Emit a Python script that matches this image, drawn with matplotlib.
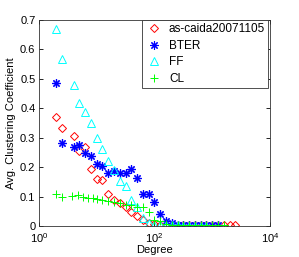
#!/usr/bin/env python3
# -*- coding: utf-8 -*-
# clustering coefficient vs degree, log x axis (matlab style)
import numpy as np
import matplotlib
matplotlib.use('Agg')
import matplotlib.pyplot as plt
from matplotlib.ticker import LogLocator, NullLocator

plt.rcParams['font.family'] = ['Liberation Sans', 'DejaVu Sans']
plt.rcParams['mathtext.default'] = 'regular'
plt.rcParams['font.size'] = 8

# ***** datos
grado = [2, 2.5, 4, 5, 6.3, 8, 10, 12.6, 15.8, 20, 25, 32, 40, 50, 63, 79,
         100, 126, 158, 200, 251, 316, 398, 501, 631, 794, 1000, 1259, 1585,
         1995, 2512]

caida_x = grado
caida_y = [0.372, 0.332, 0.306, 0.255, 0.268, 0.195, 0.160, 0.155, 0.109,
           0.088, 0.077, 0.064, 0.047, 0.033, 0.020, 0.010, 0.006, 0.005,
           0.004, 0.004, 0.003, 0.003, 0.003, 0.003, 0.003, 0.003, 0.003,
           0.003, 0.003, 0.003, 0.003]

bter_x = grado[:28]
bter_y = [0.485, 0.283, 0.270, 0.275, 0.248, 0.238, 0.212, 0.203, 0.180,
          0.187, 0.181, 0.180, 0.195, 0.162, 0.108, 0.108, 0.081, 0.040,
          0.018, 0.009, 0.005, 0.004, 0.003, 0.003, 0.002, 0.002, 0.002,
          0.002]

ff_x = grado[:26]
ff_y = [0.669, 0.568, 0.480, 0.419, 0.389, 0.349, 0.298, 0.261, 0.221,
        0.190, 0.153, 0.136, 0.090, 0.065, 0.028, 0.011, 0.005, 0.003,
        0.002, 0.002, 0.002, 0.001, 0.001, 0.001, 0.001, 0.001]

cl_x = [2, 2.5, 3.7, 4.7, 5.8, 7, 8.5, 10, 12.3, 15.5, 20, 25, 32, 40, 50,
        63, 79, 100, 126, 158, 200, 251, 316, 398, 501, 631, 794, 1000,
        1259, 1585]
cl_y = [0.108, 0.100, 0.101, 0.104, 0.100, 0.095, 0.094, 0.091, 0.090,
        0.086, 0.080, 0.078, 0.072, 0.070, 0.064, 0.063, 0.047, 0.022,
        0.018, 0.008, 0.004, 0.003, 0.003, 0.003, 0.003, 0.003, 0.003,
        0.003, 0.003, 0.003]

fig = plt.figure(figsize=(2.99, 2.57), dpi=100)
ax = fig.add_axes([0.130, 0.1206, 0.773, 0.8016])

ax.plot(caida_x, caida_y, linestyle='none', marker='D', markersize=4.2,
        mfc='none', mec=(1, 0, 0), mew=0.7, label='as-caida20071105')
# asterisco con halo suave como en matlab
ax.plot(bter_x, bter_y, linestyle='none', marker='o', markersize=6,
        mfc=(0.75, 0.75, 1.0), mec='none', alpha=0.6)
ax.plot(bter_x, bter_y, linestyle='none', marker=(8, 2, 0), markersize=6,
        color=(0, 0, 1), mew=0.8, label='BTER')
ax.plot(ff_x, ff_y, linestyle='none', marker='^', markersize=5.5,
        mfc='none', mec=(0, 1, 1), mew=0.7, label='FF')
ax.plot(cl_x, cl_y, linestyle='none', marker='+', markersize=6,
        color=(0, 1, 0), mew=0.7, label='CL')

ax.set_xscale('log')
ax.set_xlim(1, 1e4)
ax.set_ylim(0, 0.7)
ax.xaxis.set_major_locator(LogLocator(base=100))
ax.xaxis.set_minor_locator(NullLocator())
ax.set_yticks(np.arange(0, 0.71, 0.1))
ax.set_yticklabels(['0', '0.1', '0.2', '0.3', '0.4', '0.5', '0.6', '0.7'])
ax.tick_params(direction='in', top=True, right=True, length=3, width=0.6,
               labelsize=8, pad=2.5)
ax.tick_params(axis='x', pad=3.5)
for s in ax.spines.values():
    s.set_linewidth(0.6)
    s.set_color('#333333')

ax.set_xlabel('Degree', fontsize=8, va='top')
ax.xaxis.set_label_coords(0.5, -0.093)
ax.set_ylabel('Avg. Clustering Coefficient', fontsize=8, labelpad=3)

leg = ax.legend(loc='upper right', bbox_to_anchor=(0.992, 1.0), fontsize=8.5,
                fancybox=False, edgecolor='#333333', framealpha=1,
                borderpad=0.25, labelspacing=0.4, handlelength=1.4,
                handletextpad=0.6, borderaxespad=0)
leg.get_frame().set_linewidth(0.6)

fig.savefig('out.png', dpi=100)
